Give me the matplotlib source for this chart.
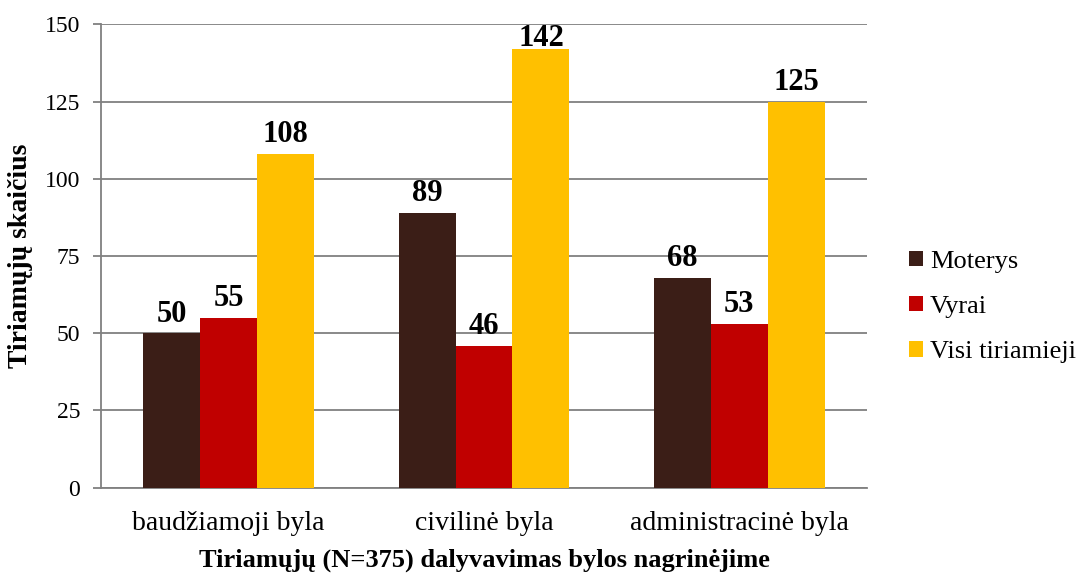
import matplotlib
matplotlib.use("Agg")
import matplotlib.pyplot as plt
import numpy as np

categories = ["baudžiamoji byla", "civilinė byla", "administracinė byla"]
series_names = ["Moterys", "Vyrai", "Visi tiriamieji"]
moterys = [50, 89, 68]
vyrai = [55, 46, 53]
visi = [108, 142, 125]
yticks = [0, 25, 50, 75, 100, 125, 150]
colors = ["#3B1E17", "#C00000", "#FFC000"]

plt.rcParams['font.family'] = ['Liberation Serif', 'DejaVu Serif']

fig = plt.figure(figsize=(10.8, 5.77), dpi=100)
ax = fig.add_axes([0.0935, 0.1548, 0.7093, 0.8031])

ymax = yticks[-1]
x = np.arange(len(categories))
w = 0.223
series = [moterys, vyrai, visi]
for i, (vals, name, c) in enumerate(zip(series, series_names, colors)):
    pos = x + (i - 1) * w
    ax.bar(pos, vals, width=w, color=c, label=name, zorder=3)
    for xp, v in zip(pos, vals):
        if v + 9 > ymax:
            # label kept inside the plot area
            ax.text(xp, ymax, str(v), ha='center', va='top',
                    fontsize=22, fontweight='bold', zorder=4)
        else:
            ax.text(xp, v + 1.5, str(v), ha='center', va='bottom',
                    fontsize=22, fontweight='bold', zorder=4)

ax.set_xlim(-0.5, 2.5)
ax.set_ylim(0, ymax)
ax.set_yticks(yticks)
ax.set_yticklabels([str(t) for t in yticks], fontsize=17)
ax.set_xticks(x)
ax.set_xticklabels(categories, fontsize=20)
ax.tick_params(axis='x', length=0, pad=17)
ax.tick_params(axis='y', length=6, width=1.3, color='#808080', pad=9)
ax.grid(axis='y', color='#808080', linewidth=1.3, zorder=0)
for s in ['top', 'right']:
    ax.spines[s].set_visible(False)
for s in ['left', 'bottom']:
    ax.spines[s].set_color('#808080')
    ax.spines[s].set_linewidth(1.3)

ax.set_ylabel("Tiriamųjų skaičius", fontsize=20, fontweight='bold')
ax.yaxis.set_label_coords(-0.089, 0.5)
ax.set_xlabel("Tiriamųjų (N=375) dalyvavimas bylos nagrinėjime", fontsize=19,
              fontweight='bold', labelpad=9)

fig.legend(loc='center left', bbox_to_anchor=(0.8417, 0.468), frameon=False,
           fontsize=19, handlelength=0.53, handleheight=0.53, handletextpad=0.27,
           labelspacing=0.88, borderpad=0, borderaxespad=0)

fig.savefig("out.png", dpi=100)
